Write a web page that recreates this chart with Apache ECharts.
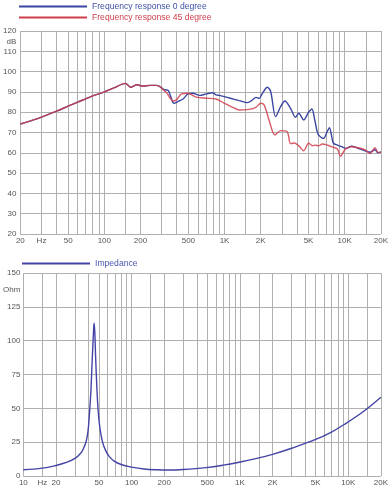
<!DOCTYPE html>
<html>
<head>
<meta charset="utf-8">
<script src="https://cdn.jsdelivr.net/npm/echarts@6/dist/echarts.min.js"></script>
<style>html,body{margin:0;padding:0;background:#fff;}#c{width:391px;height:488px;}</style>
</head>
<body>
<div id="c"></div>
<script>
// ---- Data ----
var freq0 = [20,25,30,40,50,60,70,80,100,120,150,165,187,210,240,270,290,310,340,356,379,411,452,497,547,621,705,791,853,908,1098,1328,1553,1709,1823,1941,2066,2271,2421,2663,2928,3178,3541,3892,4147,4557,5012,5337,5600,5900,6061,6667,7100,7465,7800,8056,8700,9440,10310,11340,12950,14790,16260,17880,18930,20000];
var db0   = [74.2,76,77.6,80.5,83,85,86.6,88,90,92,94.2,92.3,93.5,92.8,93.2,93.2,92.6,91.3,90.7,87.8,84.4,85.3,86.5,89,89.3,88.3,89,89.6,88.5,88.3,87,85.7,84.7,86,87.3,86.8,89.3,92.3,90.2,77.8,82.7,85.5,81.9,77.5,79.5,76.2,80,81.6,77,70.4,68.8,67.1,70,72.4,68,64.7,63.8,63,62.2,63.2,62.2,61,60.3,61.5,60,60.5];
var freq45 = [20,25,30,40,50,60,70,80,100,120,150,165,187,210,240,270,290,300,330,351,374,399,439,497,583,705,850,998,1169,1328,1604,1823,2004,2134,2345,2627,2928,3320,3541,3800,4147,4557,5012,5400,5723,6061,6500,7000,7755,8700,9204,10120,11340,12950,14790,16260,17880,18930,20000];
var db45   = [74.2,76,77.6,80.5,83,85,86.6,88,90,92,94.2,92.3,93.5,92.8,93.2,93.2,92.6,91.8,89.5,87.1,85.5,86.2,89,89.3,87.4,86.9,86.5,84.4,82.4,81.1,81.4,82.4,84.4,83.6,76.2,68.8,70.9,70.4,64.5,64.8,63.4,61,64.7,63.5,63.8,63.4,64.3,64,63,61.9,58.3,61.8,63,62.5,61.4,59.6,62.5,60.2,60.3];
var impFreq = [10,15,20,25,30,34,36,38,39.5,40.7,42,43.2,44.3,45,45.7,46.5,47.7,49,50.8,53.5,57,62,69,80,100,130,170,220,300,486,700,1000,1400,2000,3000,5000,7000,9000,13700,20000];
var impOhm  = [4.6,5.8,7.8,10,13,17,20.5,25.5,33,45,62,85,104,113,106,88,66,49,36,26,19.5,14.5,11,8.5,6.6,5.2,4.6,4.4,4.8,6.2,8,10.3,12.8,16,20.5,27,32.5,37.7,47.5,58.2];
var topGridFreqs = [20,30,40,50,60,70,80,90,100,150,200,300,400,500,600,700,800,900,1000,1500,2000,3000,4000,5000,6000,7000,8000,9000,10000,15000,20000];
var topLabelFreqs = [20,30,50,100,200,500,1000,2000,5000,10000,20000];
var botGridFreqs = [10,15,20,30,40,50,60,70,80,90,100,150,200,300,400,500,600,700,800,900,1000,1500,2000,3000,4000,5000,6000,7000,8000,9000,10000,15000,20000];
var botLabelFreqs = [10,15,20,50,100,200,500,1000,2000,5000,10000,20000];
var dbTicks = [20,30,40,50,60,70,80,90,100,110,120];
var ohmTicks = [0,25,50,75,100,125,150];
var dbUnitAt = 114.6, ohmUnitAt = 137.5;

function pairs(xs, ys){ return xs.map(function(x,i){ return [x, ys[i]]; }); }
function fmtFreq(hzAt){
  return function(v){
    v = Math.round(v);
    if (v === hzAt) return 'Hz';
    if (v >= 1000) return (v/1000) + 'K';
    return String(v);
  };
}

var gridColor = '#b0b0b0';
var labelStyle = {color:'#555', fontSize:8, fontFamily:'Liberation Sans, Arial, sans-serif'};

var chart = echarts.init(document.getElementById('c'), null, {renderer:'canvas'});
chart.setOption({
  animation:false,
  backgroundColor:'#fff',
  legend:[{
    orient:'vertical', left:14, top:-4, itemGap:0, itemWidth:68, itemHeight:2, icon:'rect',
    textStyle:{fontSize:8.6, lineHeight:11, fontFamily:'Liberation Sans, Arial, sans-serif'},
    data:[{name:'Frequency response 0 degree', textStyle:{color:'#3f52a6'}},
          {name:'Frequency response 45 degree', textStyle:{color:'#d0404e'}}]
  },{
    orient:'vertical', left:17, top:253, itemWidth:68, itemHeight:2, icon:'rect',
    textStyle:{fontSize:8.6, lineHeight:11, fontFamily:'Liberation Sans, Arial, sans-serif'},
    data:[{name:'Impedance', textStyle:{color:'#4a58b0'}}]
  }],
  grid:[
    {left:20, right:7, top:31, height:203},
    {left:20, right:8, top:273, height:203}
  ],
  xAxis:[{
    gridIndex:0, type:'log', logBase:10, min:20, max:20000,
    axisLine:{show:false},
    axisTick:{show:false, customValues:topGridFreqs},
    splitLine:{show:true, lineStyle:{color:gridColor, width:1}},
    axisLabel:{customValues:topLabelFreqs, formatter:fmtFreq(30), margin:3, color:labelStyle.color, fontSize:8, fontFamily:labelStyle.fontFamily}
  },{
    gridIndex:1, type:'log', logBase:10, min:10, max:20000,
    axisLine:{show:false},
    axisTick:{show:false, customValues:botGridFreqs},
    splitLine:{show:true, lineStyle:{color:gridColor, width:1}},
    axisLabel:{customValues:botLabelFreqs, formatter:fmtFreq(15), margin:3, color:labelStyle.color, fontSize:8, fontFamily:labelStyle.fontFamily}
  }],
  yAxis:[{
    gridIndex:0, type:'value', min:20, max:120, interval:10,
    axisLine:{show:false}, axisTick:{show:false},
    splitLine:{show:true, lineStyle:{color:gridColor, width:1}},
    axisLabel:{customValues:dbTicks.concat([dbUnitAt]), formatter:function(v){ return Math.abs(v-dbUnitAt)<0.01 ? 'dB' : String(v); }, margin:4, color:labelStyle.color, fontSize:8, fontFamily:labelStyle.fontFamily}
  },{
    gridIndex:1, type:'value', min:0, max:150, interval:25,
    axisLine:{show:false}, axisTick:{show:false},
    splitLine:{show:true, lineStyle:{color:gridColor, width:1}},
    axisLabel:{customValues:ohmTicks.concat([ohmUnitAt]), formatter:function(v){ return Math.abs(v-ohmUnitAt)<0.01 ? 'Ohm' : String(v); }, margin:3, color:labelStyle.color, fontSize:8, fontFamily:labelStyle.fontFamily}
  }],
  series:[{
    name:'Frequency response 0 degree', type:'line', xAxisIndex:0, yAxisIndex:0,
    data:pairs(freq0, db0), showSymbol:false, smooth:0.3,
    lineStyle:{color:'#3b46a2', width:1.4}, itemStyle:{color:'#3b46a2'}, z:3
  },{
    name:'Frequency response 45 degree', type:'line', xAxisIndex:0, yAxisIndex:0,
    data:pairs(freq45, db45), showSymbol:false, smooth:0.3,
    lineStyle:{color:'#cf3f4c', width:1.4, opacity:0.85}, itemStyle:{color:'#cf3f4c'}, z:4
  },{
    name:'Impedance', type:'line', xAxisIndex:1, yAxisIndex:1,
    data:pairs(impFreq, impOhm), showSymbol:false, smooth:0.4,
    lineStyle:{color:'#4444a6', width:1.4}, itemStyle:{color:'#4444a6'}, z:3
  }]
});
</script>
</body>
</html>
